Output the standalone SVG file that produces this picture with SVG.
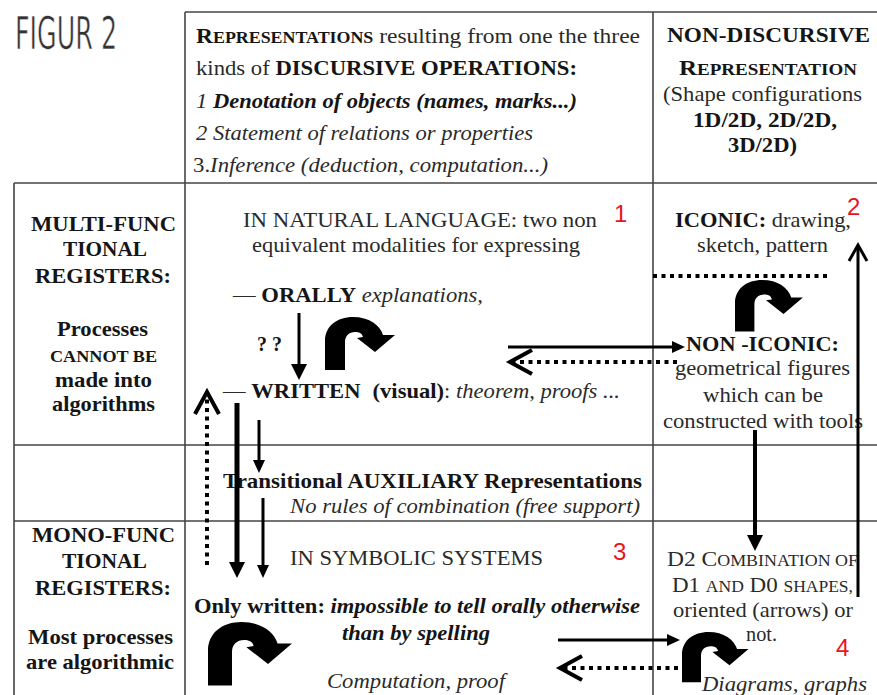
<svg xmlns="http://www.w3.org/2000/svg" width="877" height="695" viewBox="0 0 877 695">
<style>
.grid line { stroke:#444; stroke-width:1.6; }
text { font-family:"Liberation Serif","Times New Roman",serif; font-size:21px; fill:#2a2a2a; }
.b { font-weight:bold; fill:#151515; }
.i { font-style:italic; }
.sm { font-size:16px; }
.num { font-family:"Liberation Sans",Arial,sans-serif; font-size:24px; fill:#e8161b; }
.fig { font-family:"Liberation Sans Narrow","DejaVu Sans Condensed",sans-serif; font-size:44px; fill:#333; stroke:#fff; stroke-width:0.6; }
.ln { stroke:#000; fill:none; }
.dot { stroke:#000; fill:none; stroke-width:4; stroke-dasharray:4 4.5; }
.uturn { fill:#000; }
</style>
<defs>
<marker id="hM" markerUnits="userSpaceOnUse" viewBox="0 -8 16 16" markerWidth="16" markerHeight="16" refX="0" refY="0" orient="auto"><path d="M0,-8 L16,0 L0,8 Z" fill="#000"/></marker>
<marker id="hS" markerUnits="userSpaceOnUse" viewBox="0 -6 13 12" markerWidth="13" markerHeight="12" refX="0" refY="0" orient="auto"><path d="M0,-6 L13,0 L0,6 Z" fill="#000"/></marker>
<marker id="chev" markerUnits="userSpaceOnUse" viewBox="-26 -16 32 32" markerWidth="32" markerHeight="32" refX="0" refY="0" orient="auto" style="overflow:visible"><path d="M-22,-12 L0,0 L-22,12" fill="none" stroke="#000" stroke-width="4"/></marker>
<marker id="chevS" markerUnits="userSpaceOnUse" viewBox="-20 -12 24 24" markerWidth="24" markerHeight="24" refX="0" refY="0" orient="auto" style="overflow:visible"><path d="M-16,-9 L0,0 L-16,9" fill="none" stroke="#000" stroke-width="3"/></marker>
<path id="uturn" d="M0,53 L0,24 C0,9 12,0 28,0 C44,0 55,8 58,18 L70,18 L50,35 L32,21 L38,20 C37,16 34,15 30,15 C24,15 20,19 20,25 L20,53 Z"/>
</defs>

<g class="grid">
<line x1="185" y1="12" x2="877" y2="12"/>
<line x1="185" y1="12" x2="185" y2="695"/>
<line x1="653" y1="12" x2="653" y2="695"/>
<line x1="14" y1="183" x2="877" y2="183"/>
<line x1="14" y1="183" x2="14" y2="695"/>
<line x1="14" y1="445" x2="877" y2="445"/>
<line x1="14" y1="521" x2="877" y2="521"/>
</g>

<g id="title">
<text class="fig" x="15" y="49" textLength="102" lengthAdjust="spacingAndGlyphs">FIGUR 2</text>
</g>

<g id="hdr-discursive">
<text x="196" y="43" textLength="444" lengthAdjust="spacingAndGlyphs"><tspan class="b">R</tspan><tspan class="b sm">EPRESENTATIONS</tspan> resulting from one the three</text>
<text x="196" y="75" textLength="381" lengthAdjust="spacingAndGlyphs">kinds of <tspan class="b">DISCURSIVE OPERATIONS:</tspan></text>
<text x="196" y="108" textLength="381" lengthAdjust="spacingAndGlyphs" class="i">1 <tspan class="b">Denotation of objects (names, marks...)</tspan></text>
<text x="196" y="140" textLength="337" lengthAdjust="spacingAndGlyphs" class="i">2 Statement of relations or properties</text>
<text x="193" y="172" textLength="355" lengthAdjust="spacingAndGlyphs">3.<tspan class="i">Inference (deduction, computation...)</tspan></text>
</g>

<g id="hdr-nondiscursive">
<text x="667" y="42" textLength="203" lengthAdjust="spacingAndGlyphs" class="b">NON-DISCURSIVE</text>
<text x="679" y="75" textLength="178" lengthAdjust="spacingAndGlyphs" class="b">R<tspan class="sm">EPRESENTATION</tspan></text>
<text x="663" y="101" textLength="199" lengthAdjust="spacingAndGlyphs">(Shape configurations</text>
<text x="693" y="127" textLength="144" lengthAdjust="spacingAndGlyphs" class="b">1D/2D, 2D/2D,</text>
<text x="728" y="152" textLength="69" lengthAdjust="spacingAndGlyphs" class="b">3D/2D)</text>
</g>

<g id="multi-functional">
<text x="31" y="231" textLength="145" lengthAdjust="spacingAndGlyphs" class="b">MULTI-FUNC</text>
<text x="63" y="256" textLength="84" lengthAdjust="spacingAndGlyphs" class="b">TIONAL</text>
<text x="35" y="283" textLength="136" lengthAdjust="spacingAndGlyphs" class="b">REGISTERS:</text>
<text x="57" y="336" textLength="91" lengthAdjust="spacingAndGlyphs" class="b">Processes</text>
<text x="50" y="362" textLength="107" lengthAdjust="spacingAndGlyphs" class="b sm">CANNOT BE</text>
<text x="55" y="387" textLength="97" lengthAdjust="spacingAndGlyphs" class="b">made into</text>
<text x="52" y="411" textLength="103" lengthAdjust="spacingAndGlyphs" class="b">algorithms</text>
</g>

<g id="mono-functional">
<text x="32" y="542" textLength="143" lengthAdjust="spacingAndGlyphs" class="b">MONO-FUNC</text>
<text x="62" y="568" textLength="85" lengthAdjust="spacingAndGlyphs" class="b">TIONAL</text>
<text x="35" y="595" textLength="136" lengthAdjust="spacingAndGlyphs" class="b">REGISTERS:</text>
<text x="28" y="644" textLength="145" lengthAdjust="spacingAndGlyphs" class="b">Most processes</text>
<text x="26" y="669" textLength="148" lengthAdjust="spacingAndGlyphs" class="b">are algorithmic</text>
</g>

<g id="natural-language">
<text x="243" y="227" textLength="354" lengthAdjust="spacingAndGlyphs">IN NATURAL LANGUAGE: two non</text>
<text x="252" y="252" textLength="328" lengthAdjust="spacingAndGlyphs">equivalent modalities for expressing</text>
<text class="num" x="614" y="222">1</text>
<text x="233" y="302" textLength="250" lengthAdjust="spacingAndGlyphs">— <tspan class="b">ORALLY</tspan> <tspan class="i">explanations,</tspan></text>
<text x="257" y="351" textLength="25" lengthAdjust="spacingAndGlyphs" class="b">? ?</text>
<text x="223" y="398" textLength="397" lengthAdjust="spacingAndGlyphs">— <tspan class="b">WRITTEN</tspan> <tspan class="b" dx="6">(visual)</tspan>: <tspan class="i">theorem, proofs ...</tspan></text>
<use href="#uturn" class="uturn" transform="translate(325,317)"/>
</g>

<g id="transitional">
<text x="223" y="488" textLength="419" lengthAdjust="spacingAndGlyphs" class="b">Transitional AUXILIARY Representations</text>
<text x="290" y="513" textLength="350" lengthAdjust="spacingAndGlyphs" class="i">No rules of combination (free support)</text>
</g>

<g id="symbolic">
<text x="290" y="565" textLength="253" lengthAdjust="spacingAndGlyphs">IN SYMBOLIC SYSTEMS</text>
<text class="num" x="613" y="560">3</text>
<text x="194" y="613" textLength="446" lengthAdjust="spacingAndGlyphs" class="b">Only written: <tspan class="i">impossible to tell orally otherwise</tspan></text>
<text x="342" y="640" textLength="148" lengthAdjust="spacingAndGlyphs" class="b i">than by spelling</text>
<text x="327" y="688" textLength="178" lengthAdjust="spacingAndGlyphs" class="i">Computation, proof</text>
<use href="#uturn" class="uturn" transform="translate(208,622) scale(1.2)"/>
</g>

<g id="iconic">
<text x="675" y="227" textLength="176" lengthAdjust="spacingAndGlyphs"><tspan class="b">ICONIC:</tspan> drawing,</text>
<text class="num" x="847" y="215">2</text>
<text x="697" y="252" textLength="131" lengthAdjust="spacingAndGlyphs">sketch, pattern</text>
<use href="#uturn" class="uturn" transform="translate(735,280) scale(0.97)"/>
<text x="686" y="351" textLength="153" lengthAdjust="spacingAndGlyphs" class="b">NON -ICONIC:</text>
<text x="675" y="375" textLength="175" lengthAdjust="spacingAndGlyphs">geometrical figures</text>
<text x="703" y="402" textLength="120" lengthAdjust="spacingAndGlyphs">which can be</text>
<text x="663" y="428" textLength="200" lengthAdjust="spacingAndGlyphs">constructed with tools</text>
</g>

<g id="diagrams">
<text x="667" y="566" textLength="191" lengthAdjust="spacingAndGlyphs">D2 C<tspan class="sm">OMBINATION OF</tspan></text>
<text x="672" y="592" textLength="181" lengthAdjust="spacingAndGlyphs">D1 <tspan class="sm">AND</tspan> D0 <tspan class="sm">SHAPES,</tspan></text>
<text x="673" y="617" textLength="180" lengthAdjust="spacingAndGlyphs">oriented (arrows) or</text>
<text x="746" y="641" textLength="31" lengthAdjust="spacingAndGlyphs">not.</text>
<text class="num" x="836" y="656">4</text>
<use href="#uturn" class="uturn" transform="translate(682,632) scale(0.95)"/>
<text x="702" y="691" textLength="165" lengthAdjust="spacingAndGlyphs" class="i">Diagrams, graphs</text>
</g>

<g id="connectors">
<line class="ln" x1="299" y1="313" x2="299" y2="364" stroke-width="3" marker-end="url(#hM)"/>
<line class="ln" x1="237" y1="403" x2="237" y2="562" stroke-width="5" marker-end="url(#hM)"/>
<line class="ln" x1="259" y1="420" x2="259" y2="460" stroke-width="3" marker-end="url(#hS)"/>
<line class="ln" x1="263" y1="498" x2="263" y2="565" stroke-width="3" marker-end="url(#hS)"/>
<line class="ln" x1="755" y1="430" x2="755" y2="535" stroke-width="4" marker-end="url(#hM)"/>
<line class="ln" x1="858" y1="597" x2="858" y2="245" stroke-width="3" marker-end="url(#chevS)"/>
<line class="ln" x1="508" y1="347" x2="672" y2="347" stroke-width="3" marker-end="url(#hS)"/>
<line class="ln" x1="558" y1="640" x2="667" y2="640" stroke-width="3" marker-end="url(#hS)"/>
<path class="dot" d="M677,362 L510,362" marker-end="url(#chev)"/>
<path class="dot" d="M678,668 L560,668" marker-end="url(#chev)"/>
<path class="dot" d="M207,565 L207,392" marker-end="url(#chev)"/>
<path class="dot" d="M653,276 L828,276"/>
</g>
</svg>
